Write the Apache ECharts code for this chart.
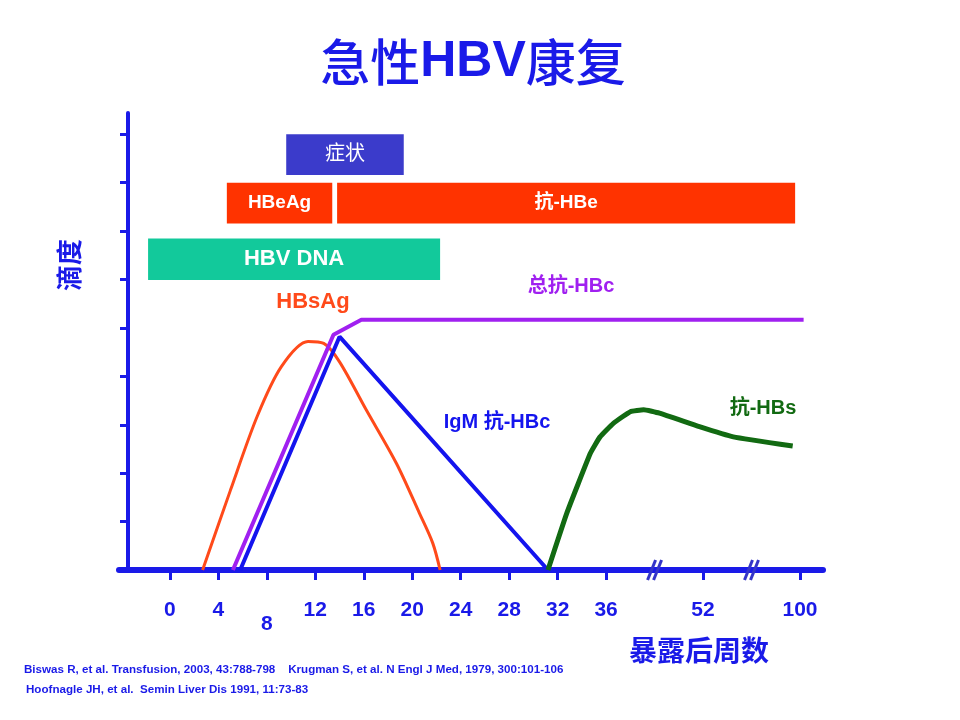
<!DOCTYPE html>
<html lang="zh">
<head>
<meta charset="UTF-8">
<title>急性HBV康复</title>
<script src="https://cdn.jsdelivr.net/npm/echarts@6/dist/echarts.min.js"></script>
<style>
  body { margin: 0; padding: 0; background: #fff; }
  #main { width: 960px; height: 720px; }
</style>
</head>
<body>
<div id="main"></div>
<script>
// 横轴刻度（暴露后周数）
var weekTicks = [0, 4, 8, 12, 16, 20, 24, 28, 32, 36, 52, 100];
var levelTicks = [0, 1, 2, 3, 4, 5, 6, 7, 8, 9];
// 断轴位置
var breakFrom = [40, 56];
var breakTo = [48, 96];

// 上方色块：起止周数与高度
var boxNames = ['症状', 'HBeAg', '抗-HBe', 'HBV DNA'];
var boxStart = [9.6, 4.7, 13.8, -1.8];
var boxEnd = [19.3, 13.4, 99.6, 22.3];
var boxLow = [8.16, 7.16, 7.16, 5.99];
var boxHigh = [9.0, 8.0, 8.0, 6.85];

// 曲线
var hbsAgWeek = [2.7, 5.0, 7.2, 9.2, 11.4, 12.7, 14.0, 16.2, 18.7, 20.6, 21.7, 22.3];
var hbsAgLevel = [0, 1.65, 3.17, 4.2, 4.72, 4.68, 4.3, 3.31, 2.2, 1.17, 0.55, 0];
var totalHBcWeek = [5.2, 13.5, 15.8, 100.3];
var totalHBcLevel = [0, 4.86, 5.17, 5.17];
var igmHBcWeek = [5.8, 14.0, 31.2];
var igmHBcLevel = [0, 4.82, 0];
var antiHBsWeek = [31.2, 32.75, 34.7, 35.5, 36.6, 38.0, 39.1, 48.4, 51.7, 54.5, 99.4];
var antiHBsLevel = [0, 1.17, 2.41, 2.75, 3.03, 3.27, 3.31, 3.24, 2.96, 2.75, 2.56];

var blue = '#1a1ae8';
var fam = '"Liberation Sans", "Noto Sans CJK SC", sans-serif';

function pairs(xs, ys) {
  return xs.map(function (x, i) { return [x, ys[i]]; });
}

var chart = echarts.init(document.getElementById('main'));

chart.setOption({
  animation: false,
  grid: { left: 119, right: 137, top: 113, bottom: 150 },
  xAxis: {
    type: 'value',
    min: -4.2,
    max: 101.9,
    breaks: breakFrom.map(function (s, i) { return { start: s, end: breakTo[i], gap: 0 }; }),
    breakArea: { show: false },
    axisLine: { onZero: false, lineStyle: { color: blue, width: 6 } },
    axisTick: {
      customValues: weekTicks,
      length: 10,
      lineStyle: { color: blue, width: 3 }
    },
    axisLabel: {
      customValues: weekTicks,
      margin: 30,
      color: blue,
      fontSize: 21,
      fontWeight: 'bold',
      fontFamily: 'Liberation Sans',
      formatter: function (v) { return v === 8 ? '{low|8}' : String(v); },
      rich: { low: { padding: [14, 0, 0, 0], color: blue, fontSize: 21, fontWeight: 'bold', fontFamily: 'Liberation Sans' } }
    },
    splitLine: { show: false }
  },
  yAxis: {
    type: 'value',
    min: 0,
    max: 9.44,
    offset: -9,
    axisLine: { show: true, onZero: false, lineStyle: { color: blue, width: 4 } },
    axisTick: {
      show: true,
      customValues: levelTicks,
      length: 8,
      lineStyle: { color: blue, width: 3 }
    },
    axisLabel: { show: false },
    splitLine: { show: false }
  },
  series: [
    {
      type: 'custom',
      name: 'boxes',
      data: boxNames.map(function (n, i) { return [boxStart[i], boxEnd[i], boxLow[i], boxHigh[i], i]; }),
      renderItem: function (params, api) {
        var i = api.value(4);
        var p0 = api.coord([api.value(0), api.value(3)]);
        var p1 = api.coord([api.value(1), api.value(2)]);
        var fills = ['#3b3bcb', '#ff3300', '#ff3300', '#12c99b'];
        var fonts = ['20px ' + fam, 'bold 19px ' + fam, 'bold 19px ' + fam, 'bold 22px ' + fam];
        return {
          type: 'rect',
          shape: { x: p0[0], y: p0[1], width: p1[0] - p0[0], height: p1[1] - p0[1] },
          style: { fill: fills[i] },
          textContent: { style: { text: boxNames[i], fill: '#fff', font: fonts[i] } },
          textConfig: { position: 'inside' }
        };
      },
      z: 3
    },
    {
      type: 'line', name: 'HBsAg', data: pairs(hbsAgWeek, hbsAgLevel),
      smooth: 0.3, showSymbol: false, lineStyle: { color: '#ff4a1a', width: 3 }, z: 4
    },
    {
      type: 'line', name: '总抗-HBc', data: pairs(totalHBcWeek, totalHBcLevel),
      showSymbol: false, lineStyle: { color: '#a020f0', width: 4 }, z: 5
    },
    {
      type: 'line', name: 'IgM 抗-HBc', data: pairs(igmHBcWeek, igmHBcLevel),
      showSymbol: false, lineStyle: { color: '#1414ee', width: 4 }, z: 5
    },
    {
      type: 'line', name: '抗-HBs', data: pairs(antiHBsWeek, antiHBsLevel),
      smooth: 0.12, showSymbol: false, lineStyle: { color: '#126a12', width: 5, join: 'round' }, z: 5
    },
    {
      type: 'custom',
      name: 'breakMarks',
      data: breakFrom.map(function (b) { return [b, 0]; }),
      renderItem: function (params, api) {
        var c = api.coord([api.value(0), 0]);
        var children = [-3, 3].map(function (dx) {
          return {
            type: 'line',
            shape: { x1: c[0] + dx - 4, y1: c[1] + 10, x2: c[0] + dx + 4, y2: c[1] - 10 },
            style: { stroke: '#3434c8', lineWidth: 3 }
          };
        });
        return { type: 'group', children: children };
      },
      z: 6
    }
  ],
  graphic: [
    { type: 'text', x: 473, y: 62, style: {
      text: '{c|急性}{l|HBV}{c|康复}', textAlign: 'center', textVerticalAlign: 'middle',
      rich: {
        c: { fill: blue, font: '500 50px "Noto Sans CJK SC"' },
        l: { fill: blue, font: 'bold 50px "Liberation Sans"' }
      }
    } },
    { type: 'text', x: 69, y: 265, rotation: Math.PI / 2, style: { text: '滴度', fill: blue, font: 'bold 26px "Noto Sans CJK SC"', textAlign: 'center', textVerticalAlign: 'middle' } },
    { type: 'text', x: 699, y: 650, style: { text: '暴露后周数', fill: blue, font: 'bold 28px "Noto Sans CJK SC"', textAlign: 'center', textVerticalAlign: 'middle' } },
    { type: 'text', x: 313, y: 302, style: { text: 'HBsAg', fill: '#ff4a1a', font: 'bold 22px ' + fam, textAlign: 'center', textVerticalAlign: 'middle' } },
    { type: 'text', x: 571, y: 286, style: { text: '总抗-HBc', fill: '#a020f0', font: 'bold 20px ' + fam, textAlign: 'center', textVerticalAlign: 'middle' } },
    { type: 'text', x: 497, y: 422, style: { text: 'IgM 抗-HBc', fill: '#1414ee', font: 'bold 20px ' + fam, textAlign: 'center', textVerticalAlign: 'middle' } },
    { type: 'text', x: 763, y: 408, style: { text: '抗-HBs', fill: '#126a12', font: 'bold 20px ' + fam, textAlign: 'center', textVerticalAlign: 'middle' } },
    { type: 'text', x: 24, y: 670, style: { text: 'Biswas R, et al. Transfusion, 2003, 43:788-798    Krugman S, et al. N Engl J Med, 1979, 300:101-106', fill: blue, font: 'bold 11.6px "Liberation Sans"', textVerticalAlign: 'middle' } },
    { type: 'text', x: 26, y: 690, style: { text: 'Hoofnagle JH, et al.  Semin Liver Dis 1991, 11:73-83', fill: blue, font: 'bold 11.6px "Liberation Sans"', textVerticalAlign: 'middle' } }
  ]
});
</script>
</body>
</html>
